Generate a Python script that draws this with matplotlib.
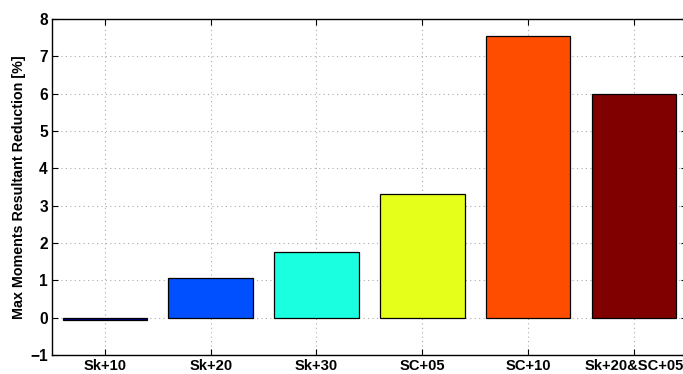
import numpy as np
import matplotlib
matplotlib.use("Agg")
import matplotlib.pyplot as plt

plt.rcParams['font.family'] = ['Liberation Sans', 'DejaVu Sans']
plt.rcParams['font.weight'] = 'bold'

# cases and their reduction of the max resultant moment
cases = ["Sk+10", "Sk+20", "Sk+30", "SC+05", "SC+10", "Sk+20&SC+05"]
reduction = [-0.05, 1.06, 1.75, 3.32, 7.55, 5.98]
bar_colors = ["#000090", "#0050FF", "#1AFFE0", "#E5FF1A", "#FF4D00", "#800000"]

fig = plt.figure(figsize=(6.83, 3.74), dpi=100)
ax = fig.add_axes([0.0761, 0.0508, 0.9295, 0.8984])

x = np.arange(1, len(cases) + 1)
ax.bar(x, reduction, width=0.8, color=bar_colors, edgecolor="black",
       linewidth=0.9, zorder=3)

ax.set_xlim(0.5, 6.5)
ax.set_ylim(-1, 8)
ax.set_xticks(x)
ax.set_xticklabels(cases, fontsize=10.6, fontweight="bold")
ax.set_yticks(np.arange(-1, 9))
ax.set_yticklabels([f"{v:d}".replace("-", "\u2212") for v in range(-1, 9)],
                   fontsize=11.2, fontweight="bold")
ax.set_ylabel("Max Moments Resultant Reduction [%]", fontsize=10.3,
              fontweight="bold", labelpad=3)

ax.grid(True, linestyle=(0, (1, 3)), color="#aaaaaa", linewidth=0.8, zorder=0)
ax.tick_params(direction="in", length=4, width=0.8, top=True, right=True,
               color="black", pad=3)
for s in ax.spines.values():
    s.set_linewidth(1.0)

fig.savefig("out.png", dpi=100)
